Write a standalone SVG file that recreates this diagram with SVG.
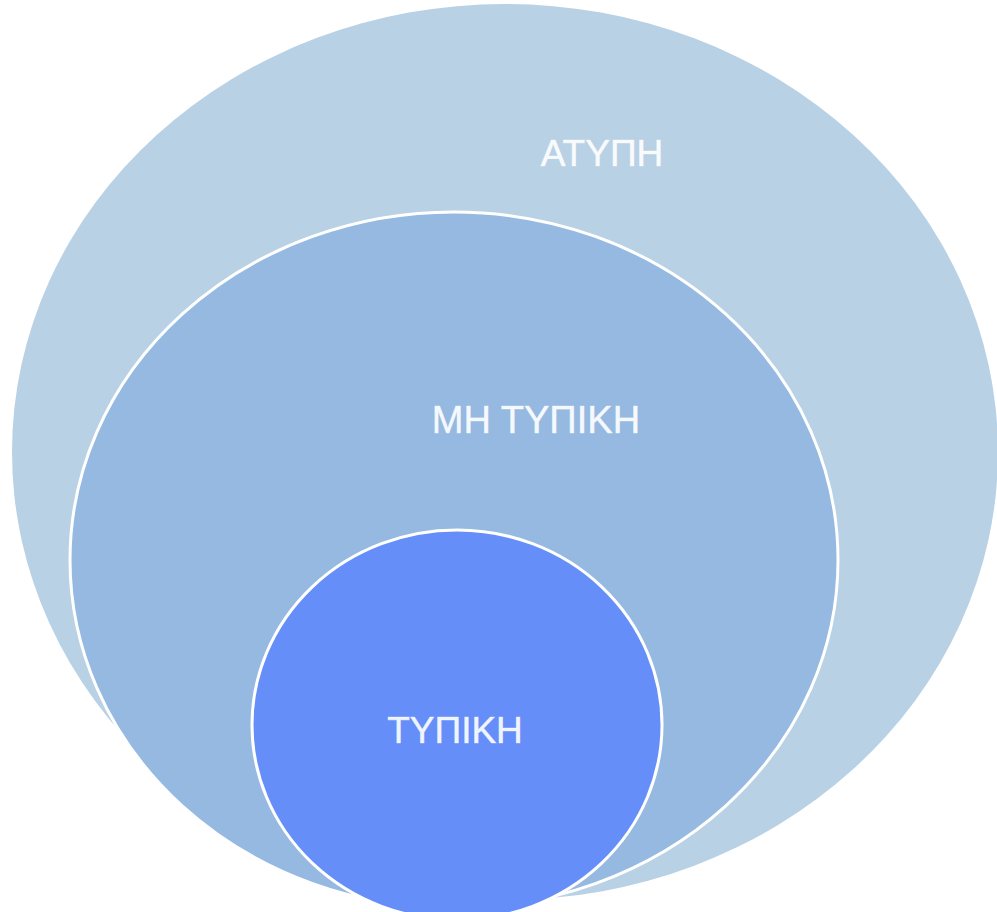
<svg xmlns="http://www.w3.org/2000/svg" width="997" height="912" viewBox="0 0 997 912">
<style>
.lbl{font-family:"Liberation Sans",Arial,sans-serif;fill:#ffffff;fill-opacity:0.92;stroke:#ffffff;stroke-opacity:0.6;stroke-width:0.7;text-anchor:middle}
.ring{stroke:#ffffff;stroke-width:3}
</style>
<rect width="997" height="912" fill="#ffffff"/>
<g id="outer">
<ellipse cx="505" cy="452" rx="493" ry="448" fill="#B9D1E5"/>
<text class="lbl" x="602" y="166" font-size="37">ΑΤΥΠΗ</text>
</g>
<g id="middle">
<ellipse class="ring" cx="454" cy="560" rx="384" ry="348" fill="#95B9E1"/>
<text class="lbl" x="536" y="433" font-size="38">ΜΗ ΤΥΠΙΚΗ</text>
</g>
<g id="inner">
<ellipse class="ring" cx="457" cy="725" rx="205" ry="195" fill="#668EF9"/>
<text class="lbl" x="455" y="743" font-size="37">ΤΥΠΙΚΗ</text>
</g>
<g id="connectors"></g>
</svg>
